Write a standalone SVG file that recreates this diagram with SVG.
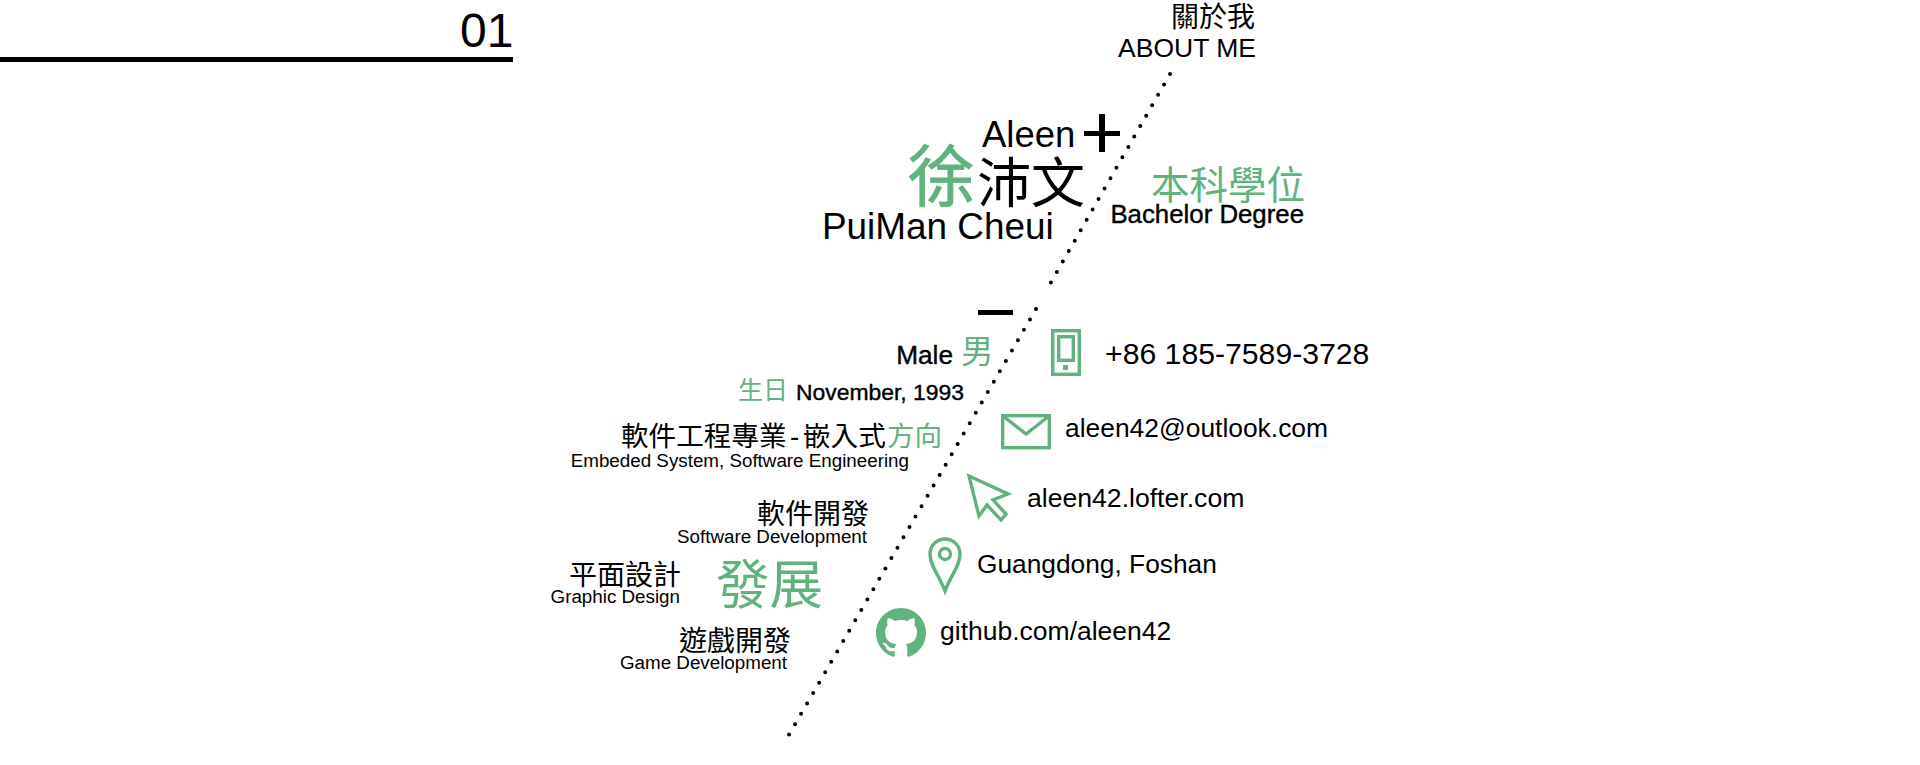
<svg xmlns="http://www.w3.org/2000/svg" width="1920" height="765" viewBox="0 0 1920 765">
<style>
text{font-family:"Liberation Sans","Noto Sans CJK TC",sans-serif;fill:#000}
.g{fill:#62b280}
.e{text-anchor:end}
.b{stroke:#000;stroke-width:.4}
.i{fill:none;stroke:#62b280;stroke-width:3.4}
.d{fill:none;stroke:#000;stroke-width:4;stroke-linecap:round;stroke-dasharray:0 12}
</style>
<rect width="1920" height="765" fill="#fff"/>
<g id="connectors">
<path class="d" d="M1170 74L1050 284"/>
<path class="d" d="M1036 309L787 738"/>
</g>
<g id="page-number">
<text x="460" y="47" font-size="48">01</text>
<rect x="0" y="57" width="513" height="5"/>
</g>
<g id="title">
<text x="1255" y="27" font-size="28" class="e">關於我</text>
<text x="1256" y="57" font-size="26.5" class="e">ABOUT ME</text>
</g>
<g id="name">
<text x="982" y="147" font-size="36.5">Aleen</text>
<rect x="1084" y="131" width="36" height="5"/>
<rect x="1099" y="114" width="6" height="38"/>
<text x="908" y="201" font-size="67" class="g" stroke="#62b280" stroke-width=".8">徐</text>
<text x="977" y="203" font-size="54">沛文</text>
<text x="822" y="239" font-size="36.9">PuiMan Cheui</text>
</g>
<g id="degree">
<text x="1305" y="199" font-size="38.5" class="g e">本科學位</text>
<text x="1304" y="223" font-size="25.8" class="b e">Bachelor Degree</text>
</g>
<g id="personal">
<rect x="978" y="310" width="35" height="5"/>
<text x="953" y="364" font-size="26.2" class="b e">Male</text>
<text x="961" y="363" font-size="32.5" class="g">男</text>
<text x="738" y="399" font-size="25" class="g">生日</text>
<text x="964" y="400" font-size="22.9" class="b e">November, 1993</text>
</g>
<g id="major">
<text x="621" y="446" font-size="27.6">軟件工程專業<tspan x="790">-</tspan><tspan x="803">嵌入式</tspan><tspan x="887" class="g">方向</tspan></text>
<text x="909" y="467" font-size="18.8" class="e">Embeded System, Software Engineering</text>
</g>
<g id="software-dev">
<text x="869" y="524" font-size="28" class="e">軟件開發</text>
<text x="867" y="543" font-size="18.8" class="e">Software Development</text>
</g>
<g id="graphic-design">
<text x="681" y="585" font-size="28" class="e">平面設計</text>
<text x="680" y="603" font-size="18.8" class="e">Graphic Design</text>
</g>
<g id="development">
<text x="823" y="604" font-size="53.5" class="g e">發展</text>
</g>
<g id="game-dev">
<text x="791" y="651" font-size="28" class="e">遊戲開發</text>
<text x="787" y="669" font-size="18.8" class="e">Game Development</text>
</g>
<g id="phone">
<rect class="i" x="1052.7" y="330.7" width="26.6" height="43.6"/>
<rect class="i" x="1058.7" y="336.7" width="14.6" height="23.6"/>
<rect x="1063" y="365" width="5" height="5" fill="#62b280"/>
<text x="1105" y="364" font-size="30.2">+86 185-7589-3728</text>
</g>
<g id="mail">
<rect class="i" x="1002.7" y="415.7" width="46.6" height="32"/>
<path class="i" d="M1003 416L1026 434L1049 416"/>
<text x="1065" y="437" font-size="26.4">aleen42@outlook.com</text>
</g>
<g id="website">
<path class="i" d="M969 476L1008 494L993 500L1006 514L1001 520L987 505L979 516Z"/>
<text x="1027" y="507" font-size="26.6">aleen42.lofter.com</text>
</g>
<g id="location">
<path class="i" d="M945 591C939 575 930 566 930 554A15 15 0 0 1 960 554C960 566 951 575 945 591Z"/>
<circle class="i" cx="945" cy="554" r="5.5"/>
<text x="977" y="573" font-size="26.3">Guangdong, Foshan</text>
</g>
<g id="github">
<path transform="translate(876 608) scale(3.125)" fill="#62b280" d="M8 0C3.58 0 0 3.58 0 8c0 3.54 2.29 6.53 5.47 7.59.4.07.55-.17.55-.38 0-.19-.01-.82-.01-1.49-2.01.37-2.53-.49-2.69-.94-.09-.23-.48-.94-.82-1.13-.28-.15-.68-.52-.01-.53.63-.01 1.08.58 1.23.82.72 1.21 1.87.87 2.33.66.07-.52.28-.87.51-1.07-1.78-.2-3.64-.89-3.64-3.95 0-.87.31-1.59.82-2.15-.08-.2-.36-1.02.08-2.12 0 0 .67-.21 2.2.82.64-.18 1.32-.27 2-.27.68 0 1.36.09 2 .27 1.53-1.04 2.2-.82 2.2-.82.44 1.1.16 1.92.08 2.12.51.56.82 1.27.82 2.15 0 3.07-1.87 3.75-3.65 3.95.29.25.54.73.54 1.48 0 1.07-.01 1.93-.01 2.2 0 .21.15.46.55.38A8.013 8.013 0 0016 8c0-4.42-3.58-8-8-8z"/>
<text x="940" y="640" font-size="26.5">github.com/aleen42</text>
</g>
</svg>
